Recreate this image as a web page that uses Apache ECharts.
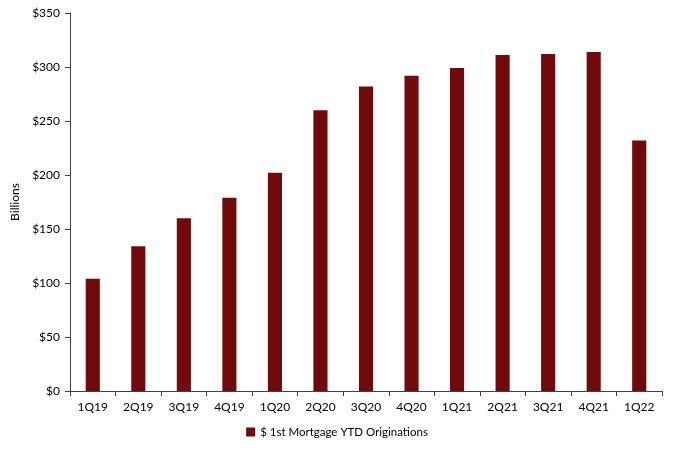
<!DOCTYPE html>
<html><head><meta charset="utf-8">
<script src="https://cdn.jsdelivr.net/npm/echarts@6/dist/echarts.min.js"></script>
<style>html,body{margin:0;padding:0;background:#fff}#c{width:674px;height:449px}</style>
</head><body><div id="c"></div>
<script>
const categories = ["1Q19","2Q19","3Q19","4Q19","1Q20","2Q20","3Q20","4Q20","1Q21","2Q21","3Q21","4Q21","1Q22"];
const originations = [104,134,160,179,202,260,282,292,299,311,312,314,232];
const seriesName = "$ 1st Mortgage YTD Originations";
const yTicks = {min:0, max:350, interval:50};

const chart = echarts.init(document.getElementById('c'));
const font = "Lato, 'Open Sans', sans-serif";
chart.setOption({
  animation:false,
  textStyle:{fontFamily:font},
  grid:{left:70,right:12,top:13,bottom:58},
  legend:{bottom:6,left:'center',itemWidth:9,itemHeight:9,icon:'rect',
    textStyle:{fontFamily:font,fontSize:11.5,color:'#000'},data:[seriesName]},
  xAxis:{type:'category',data:categories,
    axisLine:{lineStyle:{color:'#404040',width:1}},
    axisTick:{show:true,length:5,lineStyle:{color:'#404040'}},
    axisLabel:{color:'#000',fontSize:12,margin:10,fontFamily:font}},
  yAxis:{type:'value',min:yTicks.min,max:yTicks.max,interval:yTicks.interval,
    name:'Billions',nameLocation:'middle',nameGap:47,nameRotate:90,
    nameTextStyle:{color:'#000',fontSize:12,fontFamily:font},
    axisLine:{show:true,lineStyle:{color:'#404040',width:1}},
    axisTick:{show:true,length:5,lineStyle:{color:'#404040'}},
    splitLine:{show:false},
    axisLabel:{color:'#000',fontSize:12,margin:10,fontFamily:font,formatter:v=>'$'+v}},
  series:[{name:seriesName,type:'bar',data:originations,barWidth:'31%',
    itemStyle:{color:'#710A0A'}}]
});
</script></body></html>
